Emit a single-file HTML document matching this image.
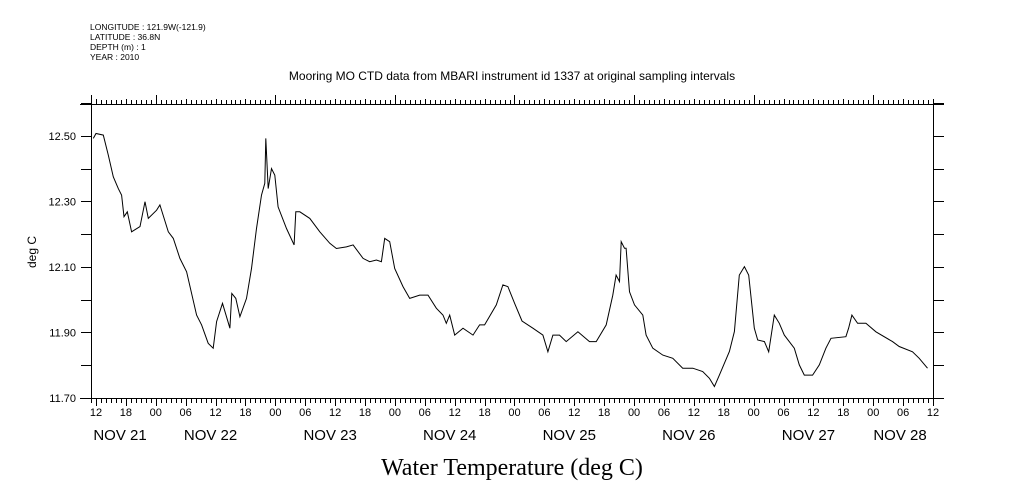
<!DOCTYPE html>
<html><head><meta charset="utf-8"><style>
html,body{margin:0;padding:0;background:#fff;}
svg{display:block;font-family:"Liberation Sans",sans-serif;}
</style></head><body>
<svg id="chart" width="1009" height="504" viewBox="0 0 1009 504" xmlns="http://www.w3.org/2000/svg">
<g font-size="8.5" fill="#000">
<text x="90" y="30">LONGITUDE : 121.9W(-121.9)</text>
<text x="90" y="40">LATITUDE : 36.8N</text>
<text x="90" y="50">DEPTH (m) : 1</text>
<text x="90" y="60">YEAR : 2010</text>
</g>
<text x="512" y="80" text-anchor="middle" font-size="12">Mooring MO CTD data from MBARI instrument id 1337 at original sampling intervals</text>
<text x="512" y="475" text-anchor="middle" font-size="24" font-family="'Liberation Serif',serif">Water Temperature (deg C)</text>
<text transform="translate(36,252) rotate(-90)" text-anchor="middle" font-size="12">deg C</text>
<g id="axes"></g>
<g id="marks"></g>
</svg>
<script>
const hours = [11.47,12.0,13.47,14.48,15.48,16.48,17.15,17.62,18.29,19.15,20.83,21.83,22.5,24.17,24.83,26.51,27.51,28.85,30.18,32.19,33.19,34.53,35.53,36.2,37.4,38.87,39.27,40.07,40.88,42.21,43.22,44.22,45.22,45.89,46.09,46.56,47.23,47.9,48.56,50.24,51.77,52.11,52.91,54.91,56.92,58.93,60.26,62.27,63.6,65.61,66.94,68.28,69.28,69.95,70.96,71.96,73.63,74.97,76.97,78.64,80.31,81.65,82.32,82.99,83.99,85.66,87.67,89.0,90.0,92.35,93.68,94.68,96.02,97.5,99.69,101.7,102.7,103.7,105.04,106.38,108.72,111.06,112.39,114.4,115.74,116.4,117.07,117.41,118.08,118.41,119.08,120.08,121.75,122.42,123.76,125.76,127.77,129.77,131.78,133.78,135.12,136.12,137.12,139.13,140.13,141.13,142.14,143.01,144.14,144.81,146.15,147.02,148.15,149.16,150.16,152.16,153.17,154.17,155.84,157.18,158.51,159.52,162.52,163.06,163.73,164.86,166.53,168.54,171.88,173.22,175.89,177.23,178.9];
const temps = [12.492,12.507,12.502,12.441,12.375,12.339,12.319,12.253,12.268,12.207,12.223,12.299,12.248,12.273,12.289,12.207,12.187,12.126,12.085,11.953,11.923,11.867,11.852,11.933,11.989,11.913,12.019,12.004,11.948,12.004,12.095,12.217,12.319,12.355,12.492,12.339,12.400,12.380,12.283,12.217,12.167,12.268,12.268,12.248,12.207,12.172,12.156,12.161,12.167,12.126,12.116,12.121,12.116,12.187,12.177,12.095,12.040,12.004,12.014,12.014,11.974,11.953,11.928,11.953,11.892,11.913,11.892,11.923,11.923,11.984,12.045,12.040,11.989,11.935,11.913,11.892,11.841,11.892,11.892,11.872,11.902,11.872,11.872,11.923,12.014,12.075,12.055,12.177,12.157,12.157,12.024,11.984,11.953,11.892,11.852,11.831,11.821,11.791,11.791,11.781,11.760,11.735,11.770,11.842,11.903,12.075,12.101,12.075,11.913,11.877,11.872,11.841,11.953,11.928,11.892,11.852,11.801,11.770,11.770,11.801,11.852,11.882,11.887,11.913,11.953,11.928,11.928,11.902,11.872,11.857,11.841,11.821,11.791];
const yTicks = [11.70,11.90,12.10,12.30,12.50];
const dayLabels = ["NOV 21","NOV 22","NOV 23","NOV 24","NOV 25","NOV 26","NOV 27","NOV 28"];
const hourLabels = ["00","06","12","18"];

const L=91,R=933,T=104,B=398;
const h0=11,h1=180,v0=11.70,v1=12.597;
const xs=h=>L+(h-h0)/(h1-h0)*(R-L);
const ys=v=>B-(v-v0)/(v1-v0)*(B-T);
const NS="http://www.w3.org/2000/svg";
const axes=document.getElementById('axes'), marks=document.getElementById('marks');
function mk(tag,attrs,parent){const e=document.createElementNS(NS,tag);for(const k in attrs)e.setAttribute(k,attrs[k]);parent.appendChild(e);return e;}

let d="";
function tick(x1,y1,x2,y2){d+=`M${x1},${y1}L${x2},${y2}`;}
const Tp=T+0.5,Bp=B+0.5,Lp=L+0.5,Rp=R+0.5;
tick(80,Tp,944,Tp);tick(80,Bp,944,Bp);tick(Lp,95,Lp,Bp);tick(Rp,Tp,Rp,Bp);
for(let h=Math.ceil(h0);h<=h1;h++){
  const x=Math.round(xs(h))+0.5;
  if(h%24===0){tick(x,Tp,x,95);tick(x,Bp,x,406);}
  else if(h%6===0){tick(x,Tp,x,99);tick(x,Bp,x,406);}
  else{tick(x,Tp,x,100);tick(x,Bp,x,403);}
}
for(let v=11.7;v<=12.6;v+=0.1){const y=Math.round(ys(v))+0.5;tick(81,y,Lp,y);tick(Rp,y,944,y);}
const ap=mk('path',{d:d,stroke:'#000','stroke-width':1,fill:'none','shape-rendering':'crispEdges'},axes);



yTicks.forEach(v=>{
  const t=mk('text',{x:76,y:ys(v)+4,'text-anchor':'end','font-size':11},axes);
  t.textContent=v.toFixed(2);
  
  
});
for(let h=12;h<=h1;h+=6){
  const t=mk('text',{x:xs(h),y:416,'text-anchor':'middle','font-size':11},axes);
  t.textContent=hourLabels[(h%24)/6];
  
  
}
dayLabels.forEach((lab,i)=>{
  const cx=Math.min(900,Math.max(120,xs(24*i+12)-5));
  const t=mk('text',{x:cx,y:440,'text-anchor':'middle','font-size':15},axes);
  t.textContent=lab;
  
  
});

const pts=hours.map((h,i)=>xs(h).toFixed(1)+","+ys(temps[i]).toFixed(1)).join(" ");
const line=mk('polyline',{points:pts,fill:'none',stroke:'#000','stroke-width':1},marks);


</script>
</body></html>
